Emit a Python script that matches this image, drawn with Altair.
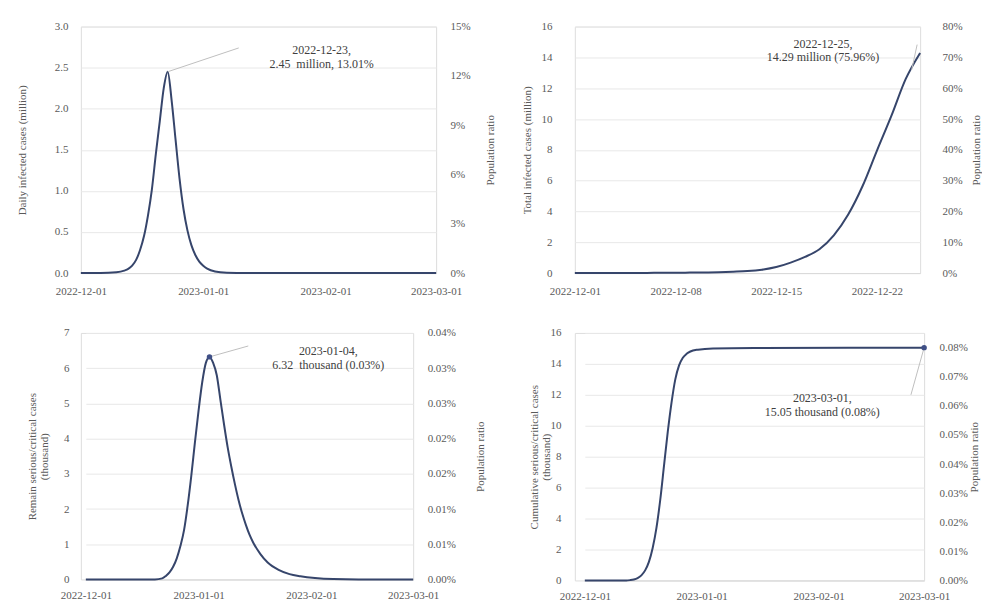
import altair as alt
import pandas as pd

# population (million) implied by "14.29 million (75.96%)"
POP_MILLION = 18.81

# ---- Panel 1: daily infected cases (million) ----
DAILY_DATES = ["2022-12-01", "2022-12-06", "2022-12-10", "2022-12-12", "2022-12-13", "2022-12-14",
               "2022-12-15", "2022-12-16", "2022-12-17", "2022-12-18", "2022-12-19", "2022-12-20",
               "2022-12-21", "2022-12-22", "2022-12-23", "2022-12-24", "2022-12-25", "2022-12-26",
               "2022-12-27", "2022-12-28", "2022-12-29", "2022-12-30", "2022-12-31", "2023-01-01",
               "2023-01-02", "2023-01-04", "2023-01-07", "2023-01-12", "2023-02-01", "2023-03-01"]
DAILY_VALUES = [0.0, 0.0, 0.01, 0.03, 0.05, 0.09,
                0.16, 0.28, 0.45, 0.70, 1.02, 1.45,
                1.85, 2.25, 2.45, 2.10, 1.62, 1.15,
                0.78, 0.52, 0.34, 0.22, 0.14, 0.09,
                0.055, 0.02, 0.005, 0.0, 0.0, 0.0]

# ---- Panel 2: total infected cases (million) ----
TOTAL_DATES = ["2022-12-%02d" % d for d in range(1, 26)]
TOTAL_VALUES = [0.00, 0.00, 0.00, 0.01, 0.01, 0.01, 0.02, 0.02, 0.03, 0.04,
                0.06, 0.09, 0.13, 0.22, 0.39, 0.68, 1.05, 1.55, 2.45, 3.80,
                5.65, 7.95, 10.20, 12.60, 14.29]

# ---- Panel 3: remaining serious/critical cases (thousand) ----
REMAIN_DATES = ["2022-12-01", "2022-12-20", "2022-12-22", "2022-12-23", "2022-12-24", "2022-12-25",
                "2022-12-26", "2022-12-27", "2022-12-28", "2022-12-29", "2022-12-30", "2022-12-31",
                "2023-01-01", "2023-01-02", "2023-01-03", "2023-01-04", "2023-01-05", "2023-01-06",
                "2023-01-07", "2023-01-08", "2023-01-09", "2023-01-10", "2023-01-11", "2023-01-12",
                "2023-01-13", "2023-01-14", "2023-01-15", "2023-01-16", "2023-01-18", "2023-01-20",
                "2023-01-23", "2023-01-26", "2023-01-29", "2023-02-02", "2023-02-07", "2023-02-14",
                "2023-03-01"]
REMAIN_VALUES = [0.0, 0.0, 0.03, 0.10, 0.20, 0.36,
                 0.60, 0.95, 1.40, 2.10, 2.95, 3.90,
                 4.80, 5.60, 6.15, 6.32, 6.15, 5.80,
                 5.10, 4.40, 3.75, 3.20, 2.70, 2.25,
                 1.87, 1.55, 1.27, 1.05, 0.72, 0.48,
                 0.27, 0.15, 0.09, 0.04, 0.01, 0.0,
                 0.0]

# ---- Panel 4: cumulative serious/critical cases (thousand) ----
CUM_DATES = ["2022-12-01", "2022-12-12", "2022-12-13", "2022-12-14", "2022-12-15", "2022-12-16",
             "2022-12-17", "2022-12-18", "2022-12-19", "2022-12-20", "2022-12-21", "2022-12-22",
             "2022-12-23", "2022-12-24", "2022-12-25", "2022-12-26", "2022-12-27", "2022-12-28",
             "2022-12-29", "2022-12-31", "2023-01-04", "2023-01-15", "2023-03-01"]
CUM_VALUES = [0.0, 0.0, 0.02, 0.06, 0.15, 0.33,
              0.65, 1.20, 2.10, 3.40, 5.20, 7.40,
              9.60, 11.50, 13.00, 13.90, 14.40, 14.65,
              14.80, 14.92, 15.00, 15.03, 15.05]

# ---- annotations: point, leader line end, label position, label text ----
ANN1 = dict(point=("2022-12-23", 2.45), lead=("2023-01-10", 2.74), label=("2023-01-31", 2.72),
            text="2022-12-23,\n2.45\u00a0 million, 13.01%", marker=False)
ANN2 = dict(point=("2022-12-24T10:00:00Z", 13.2), lead=("2022-12-24T19:00:00Z", 14.83),
            label=("2022-12-18T06:00:00Z", 14.9), text="2022-12-25,\n14.29 million (75.96%)",
            marker=False)
ANN3 = dict(point=("2023-01-04", 6.32), lead=("2023-01-14T16:00:00Z", 6.63), label=("2023-02-05T16:00:00Z", 6.5),
            text="2023-01-04,\n6.32\u00a0 thousand (0.03%)", marker=True)
ANN4 = dict(point=("2023-03-01", 15.05), lead=("2023-02-25T12:00:00Z", 12.0), label=("2023-02-02", 11.8),
            text="2023-03-01,\n15.05 thousand (0.08%)", marker=True)

FONT = "Liberation Serif"
LINE = "#36456B"
TXT = "#595959"
ANN_TXT = "#404040"
GRID = "#E8E8E8"
LEAD = "#BFBFBF"


def dt(s):
    y, m, d = s.split("-")
    return alt.DateTime(year=int(y), month=int(m), date=int(d), utc=True)


def panel(dates, values, xdom, xticks, width, height, ydom, yticks, yfmt, ytitle, ytitle_x,
          ylabpad, right, ann, xrange=None, xlabpad=12):
    df = pd.DataFrame({"date": dates, "value": values})
    df["pct"] = df["value"] / POP_MILLION * 100
    if xrange is not None:
        xscale = alt.Scale(type="utc", domain=[dt(xdom[0]), dt(xdom[1])], range=xrange)
    else:
        xscale = alt.Scale(type="utc", domain=[dt(xdom[0]), dt(xdom[1])])
    xaxis = alt.Axis(values=[dt(v) for v in xticks], labelExpr="utcFormat(datum.value, '%Y-%m-%d')",
                     title=None, grid=False, ticks=False, domainColor="#D9D9D9", domainWidth=1,
                     labelFont=FONT, labelFontSize=11, labelColor=TXT, labelPadding=xlabpad,
                     labelFlush=False, labelOverlap=False)
    X = alt.X("date:T", scale=xscale, axis=xaxis)
    yscale = alt.Scale(domain=ydom, nice=False, zero=True)
    yaxis = alt.Axis(values=yticks, format=yfmt, orient="left", title=ytitle, grid=True,
                     gridColor=GRID, gridWidth=1, domain=False, ticks=False,
                     labelFont=FONT, labelFontSize=11, labelColor=TXT, labelPadding=ylabpad,
                     titleFont=FONT, titleFontSize=11, titleFontWeight="normal", titleColor=TXT,
                     titleX=ytitle_x, titleY=height / 2, titleAngle=270, titleAlign="center",
                     titleBaseline="middle", titleLineHeight=12)
    Y = alt.Y("value:Q", scale=yscale, axis=yaxis)

    line = alt.Chart(df).mark_line(color=LINE, strokeWidth=2, interpolate="monotone").encode(x=X, y=Y)

    lead_df = pd.DataFrame({"date": [ann["point"][0]], "value": [ann["point"][1]],
                            "date2": [ann["lead"][0]], "value2": [ann["lead"][1]]})
    lead = alt.Chart(lead_df).mark_rule(color=LEAD, strokeWidth=1).encode(
        x=X, x2="date2:T", y=Y, y2="value2:Q")
    lab_df = pd.DataFrame({"date": [ann["label"][0]], "value": [ann["label"][1]], "t": [ann["text"]]})
    lab = alt.Chart(lab_df).mark_text(font=FONT, fontSize=12, color=ANN_TXT, align="center",
                                      baseline="middle", lineBreak="\n", lineHeight=14).encode(
        x=X, y=Y, text="t:N")
    layers = [line, lead, lab]
    if ann["marker"]:
        pt_df = pd.DataFrame({"date": [ann["point"][0]], "value": [ann["point"][1]]})
        layers.append(alt.Chart(pt_df).mark_circle(color="#3F4F86", size=30, opacity=1).encode(x=X, y=Y))

    left = alt.layer(*layers)

    raxis = alt.Axis(values=right["ticks"], orient="right", labelExpr=right["expr"], title="Population ratio",
                     grid=False, domain=False, ticks=False, labelFont=FONT, labelFontSize=11,
                     labelColor=TXT, labelPadding=right["labpad"], labelAlign="left",
                     titleFont=FONT, titleFontSize=11, titleFontWeight="normal", titleColor=TXT,
                     titleX=right["title_x"], titleY=height / 2, titleAngle=270, titleAlign="center",
                     titleBaseline="middle")
    rlayer = alt.Chart(df).mark_line(opacity=0).encode(
        x=X,
        y=alt.Y(right["field"] + ":Q", scale=alt.Scale(domain=right["domain"], nice=False, zero=True), axis=raxis))

    return alt.layer(left, rlayer).resolve_scale(y="independent").properties(width=width, height=height)


p1 = panel(DAILY_DATES, DAILY_VALUES, ("2022-12-01", "2023-03-01"),
           ["2022-12-01", "2023-01-01", "2023-02-01", "2023-03-01"], 356, 247,
           [0, 3], [0, 0.5, 1.0, 1.5, 2.0, 2.5, 3.0], ".1f", "Daily infected cases (million)", -58, 13,
           dict(field="pct", domain=[0, 15], ticks=[0, 3, 6, 9, 12, 15], expr="datum.value + '%'",
                labpad=14, title_x=54), ANN1)

p2 = panel(TOTAL_DATES, TOTAL_VALUES, ("2022-12-01", "2022-12-25"),
           ["2022-12-01", "2022-12-08", "2022-12-15", "2022-12-22"], 346, 247,
           [0, 16], list(range(0, 17, 2)), "d", "Total infected cases (million)", -47, 23,
           dict(field="pct", domain=[0, 80], ticks=list(range(0, 81, 10)), expr="datum.value + '%'",
                labpad=22, title_x=56), ANN2)

p3 = panel(REMAIN_DATES, REMAIN_VALUES, ("2022-12-01", "2023-03-01"),
           ["2022-12-01", "2023-01-01", "2023-02-01", "2023-03-01"], 333, 247,
           [0, 7], list(range(0, 8)), "d", ["Remain serious/critical cases", "(thousand)"], -48, 12,
           dict(field="value", domain=[0, 7], ticks=list(range(0, 8)),
                expr="format(datum.value / %f, '.2f') + '%%'" % (POP_MILLION * 10),
                labpad=14, title_x=67), ANN3, xrange=[5, 333], xlabpad=10)

p4 = panel(CUM_DATES, CUM_VALUES, ("2022-12-01", "2023-03-01"),
           ["2022-12-01", "2023-01-01", "2023-02-01", "2023-03-01"], 350, 248,
           [0, 16], list(range(0, 17, 2)), "d", ["Cumulative serious/critical cases", "(thousand)"], -40, 14,
           dict(field="value", domain=[0, 16], ticks=[k * POP_MILLION / 10 for k in range(9)],
                expr="format(datum.value / %f, '.2f') + '%%'" % (POP_MILLION * 10),
                labpad=15, title_x=50), ANN4, xrange=[10, 350], xlabpad=10)

chart = alt.concat(p1, p2, p3, p4, columns=2, spacing={"row": 60, "column": 139}, bounds="flush").properties(
    padding={"left": 8, "top": 11, "right": 0, "bottom": 0}
).configure_view(strokeWidth=0).configure(background="white")

chart.save("out.html", embed_options={"renderer": "svg", "actions": False})
